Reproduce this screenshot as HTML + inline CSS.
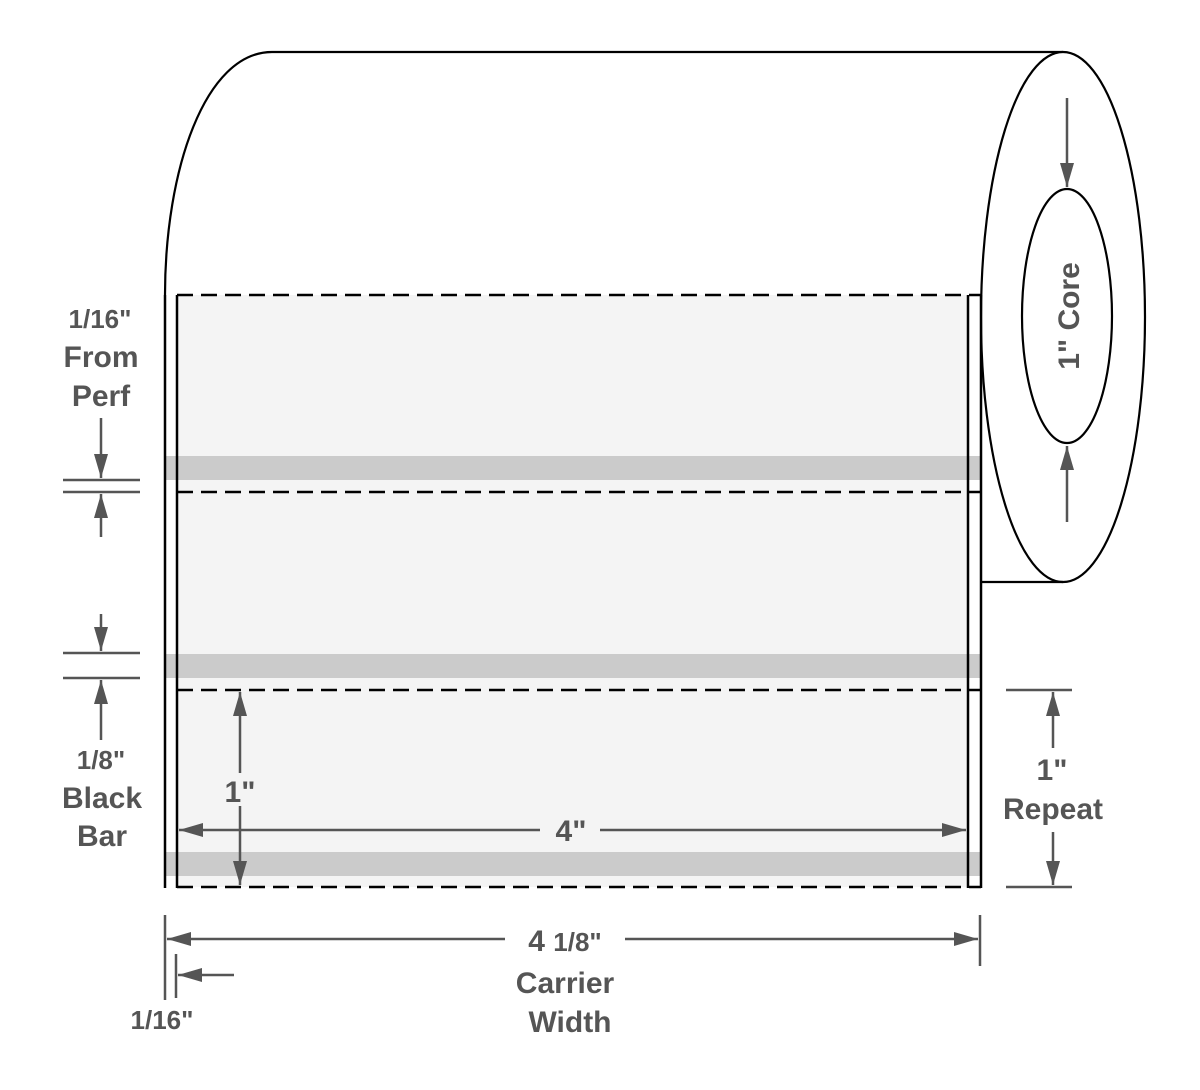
<!DOCTYPE html>
<html><head><style>html,body{margin:0;padding:0;background:#fff}svg{display:block}</style></head><body>
<svg width="1200" height="1090" viewBox="0 0 1200 1090" xmlns="http://www.w3.org/2000/svg">
<defs>
<marker id="b" viewBox="0 0 10 10" refX="10" refY="5" markerWidth="24" markerHeight="14" markerUnits="userSpaceOnUse" orient="auto-start-reverse" preserveAspectRatio="none"><path d="M0,0 L10,5 L0,10 z" fill="#555"/></marker>
</defs>
<path d="M165,295 C165,170 205,52 272,52 L1063,52" fill="none" stroke="#000" stroke-width="2.2"/>
<ellipse cx="1063" cy="317" rx="82" ry="265" fill="#fff" stroke="#000" stroke-width="2.2"/>
<ellipse cx="1067" cy="316" rx="45" ry="127" fill="#fff" stroke="#000" stroke-width="2.2"/>
<line x1="981" y1="582" x2="1063" y2="582" stroke="#000" stroke-width="2.2"/>
<rect x="165" y="295" width="816" height="592" fill="#fff"/>
<rect x="177" y="295" width="791" height="592" fill="#f4f4f4"/>
<g fill="#cbcbcb">
<rect x="165" y="456" width="816" height="24"/>
<rect x="165" y="654" width="816" height="24"/>
<rect x="165" y="852" width="816" height="24"/>
</g>
<g stroke="#000" stroke-width="2.5">
<line x1="165" y1="295" x2="165" y2="888"/>
<line x1="981" y1="295" x2="981" y2="888"/>
<line x1="177" y1="295" x2="177" y2="888"/>
<line x1="968" y1="295" x2="968" y2="888"/>
</g>
<g stroke="#000" stroke-width="2.5" stroke-dasharray="16,8">
<line x1="177" y1="295" x2="981" y2="295"/>
<line x1="177" y1="492" x2="981" y2="492"/>
<line x1="177" y1="690" x2="981" y2="690"/>
<line x1="177" y1="887" x2="981" y2="887"/>
</g>
<g stroke="#555" stroke-width="2.5" fill="none">
<line x1="63" y1="480" x2="140" y2="480"/>
<line x1="63" y1="492" x2="140" y2="492"/>
<line x1="101" y1="418" x2="101" y2="478" marker-end="url(#b)"/>
<line x1="101" y1="537" x2="101" y2="494" marker-end="url(#b)"/>
<line x1="63" y1="653" x2="140" y2="653"/>
<line x1="63" y1="678" x2="140" y2="678"/>
<line x1="101" y1="614" x2="101" y2="651" marker-end="url(#b)"/>
<line x1="101" y1="740" x2="101" y2="680" marker-end="url(#b)"/>
<line x1="240" y1="773" x2="240" y2="692" marker-end="url(#b)"/>
<line x1="240" y1="806" x2="240" y2="885" marker-end="url(#b)"/>
<line x1="540" y1="830" x2="179" y2="830" marker-end="url(#b)"/>
<line x1="600" y1="830" x2="966" y2="830" marker-end="url(#b)"/>
<line x1="1006" y1="690" x2="1072" y2="690"/>
<line x1="1006" y1="887" x2="1072" y2="887"/>
<line x1="1053" y1="748" x2="1053" y2="692" marker-end="url(#b)"/>
<line x1="1053" y1="832" x2="1053" y2="885" marker-end="url(#b)"/>
<line x1="165" y1="915" x2="165" y2="1000"/>
<line x1="176" y1="954" x2="176" y2="998"/>
<line x1="980" y1="915" x2="980" y2="966"/>
<line x1="505" y1="939" x2="167" y2="939" marker-end="url(#b)"/>
<line x1="625" y1="939" x2="978" y2="939" marker-end="url(#b)"/>
<line x1="234" y1="975" x2="178" y2="975" marker-end="url(#b)"/>
<line x1="1067" y1="98" x2="1067" y2="187" marker-end="url(#b)"/>
<line x1="1067" y1="522" x2="1067" y2="446" marker-end="url(#b)"/>
</g>
<g font-family="'Liberation Sans', sans-serif" font-weight="bold" fill="#555" text-anchor="middle">
<text x="100" y="328" font-size="26">1/16"</text>
<text x="101" y="367" font-size="30">From</text>
<text x="101" y="406" font-size="30">Perf</text>
<text x="101" y="769" font-size="26">1/8"</text>
<text x="102" y="808" font-size="30">Black</text>
<text x="102" y="846" font-size="30">Bar</text>
<text x="240" y="802" font-size="30">1"</text>
<text x="571" y="841" font-size="30">4"</text>
<text x="1052" y="780" font-size="30">1"</text>
<text x="1053" y="819" font-size="30">Repeat</text>
<text x="565" y="951" font-size="30">4 <tspan font-size="26">1/8"</tspan></text>
<text x="565" y="993" font-size="30">Carrier</text>
<text x="570" y="1032" font-size="30">Width</text>
<text x="162" y="1029" font-size="26">1/16"</text>
<text transform="translate(1079,316) rotate(-90)" font-size="30">1" Core</text>
</g>
</svg>
</body></html>
